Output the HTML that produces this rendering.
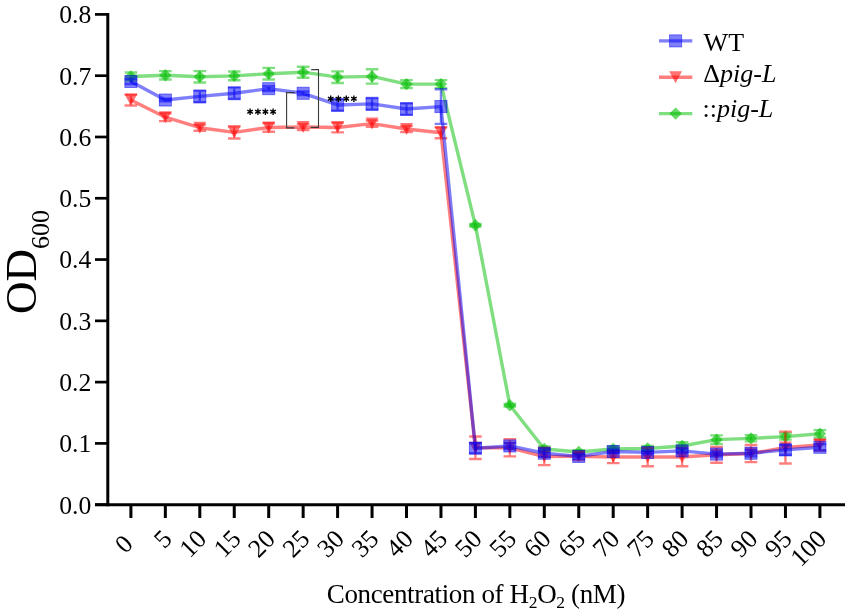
<!DOCTYPE html>
<html><head><meta charset="utf-8"><style>html,body{margin:0;padding:0;background:#fff}svg{display:block;will-change:transform}</style></head>
<body><svg width="851" height="615" viewBox="0 0 851 615">
<style>
.t{font-family:"Liberation Serif",serif;font-size:25.7px;fill:#000}
.lg{font-family:"Liberation Serif",serif;font-size:26px;fill:#000}
.ti{font-family:"Liberation Serif",serif;fill:#000}
</style>
<rect width="851" height="615" fill="#fff"/>
<g>
<polyline points="130.90,76.48 165.35,75.32 199.80,76.79 234.25,75.87 268.70,73.73 303.15,72.19 337.60,77.16 372.05,76.42 406.50,84.08 440.95,84.08 475.40,225.29 509.85,405.23 544.30,448.99 578.75,451.99 613.20,448.99 647.65,448.50 682.10,445.99 716.55,439.67 751.00,438.33 785.45,436.61 819.90,433.79" fill="none" stroke="rgba(0,190,0,0.5)" stroke-width="3.4" stroke-linejoin="round"/>
<path d="M130.90 72.50V80.47M124.60 72.50H137.20M124.60 80.47H137.20" stroke="rgba(0,190,0,0.5)" stroke-width="2.4" fill="none"/>
<path d="M165.35 71.09V79.55M159.05 71.09H171.65M159.05 79.55H171.65" stroke="rgba(0,190,0,0.5)" stroke-width="2.4" fill="none"/>
<path d="M199.80 71.15V82.43M193.50 71.15H206.10M193.50 82.43H206.10" stroke="rgba(0,190,0,0.5)" stroke-width="2.4" fill="none"/>
<path d="M234.25 71.46V80.28M227.95 71.46H240.55M227.95 80.28H240.55" stroke="rgba(0,190,0,0.5)" stroke-width="2.4" fill="none"/>
<path d="M268.70 67.90V79.55M262.40 67.90H275.00M262.40 79.55H275.00" stroke="rgba(0,190,0,0.5)" stroke-width="2.4" fill="none"/>
<path d="M303.15 66.68V77.71M296.85 66.68H309.45M296.85 77.71H309.45" stroke="rgba(0,190,0,0.5)" stroke-width="2.4" fill="none"/>
<path d="M337.60 71.34V82.98M331.30 71.34H343.90M331.30 82.98H343.90" stroke="rgba(0,190,0,0.5)" stroke-width="2.4" fill="none"/>
<path d="M372.05 69.25V83.59M365.75 69.25H378.35M365.75 83.59H378.35" stroke="rgba(0,190,0,0.5)" stroke-width="2.4" fill="none"/>
<path d="M406.50 80.10V88.07M400.20 80.10H412.80M400.20 88.07H412.80" stroke="rgba(0,190,0,0.5)" stroke-width="2.4" fill="none"/>
<path d="M440.95 80.10V88.07M434.65 80.10H447.25M434.65 88.07H447.25" stroke="rgba(0,190,0,0.5)" stroke-width="2.4" fill="none"/>
<path d="M475.40 224.06V226.52M469.10 224.06H481.70M469.10 226.52H481.70" stroke="rgba(0,190,0,0.5)" stroke-width="2.4" fill="none"/>
<path d="M509.85 404.00V406.46M503.55 404.00H516.15M503.55 406.46H516.15" stroke="rgba(0,190,0,0.5)" stroke-width="2.4" fill="none"/>
<path d="M544.30 446.54V451.44M538.00 446.54H550.60M538.00 451.44H550.60" stroke="rgba(0,190,0,0.5)" stroke-width="2.4" fill="none"/>
<path d="M578.75 450.15V453.83M572.45 450.15H585.05M572.45 453.83H585.05" stroke="rgba(0,190,0,0.5)" stroke-width="2.4" fill="none"/>
<path d="M613.20 446.54V451.44M606.90 446.54H619.50M606.90 451.44H619.50" stroke="rgba(0,190,0,0.5)" stroke-width="2.4" fill="none"/>
<path d="M647.65 446.05V450.95M641.35 446.05H653.95M641.35 450.95H653.95" stroke="rgba(0,190,0,0.5)" stroke-width="2.4" fill="none"/>
<path d="M682.10 442.31V449.66M675.80 442.31H688.40M675.80 449.66H688.40" stroke="rgba(0,190,0,0.5)" stroke-width="2.4" fill="none"/>
<path d="M716.55 435.38V443.96M710.25 435.38H722.85M710.25 443.96H722.85" stroke="rgba(0,190,0,0.5)" stroke-width="2.4" fill="none"/>
<path d="M751.00 435.26V441.39M744.70 435.26H757.30M744.70 441.39H757.30" stroke="rgba(0,190,0,0.5)" stroke-width="2.4" fill="none"/>
<path d="M785.45 433.55V439.67M779.15 433.55H791.75M779.15 439.67H791.75" stroke="rgba(0,190,0,0.5)" stroke-width="2.4" fill="none"/>
<path d="M819.90 430.11V437.47M813.60 430.11H826.20M813.60 437.47H826.20" stroke="rgba(0,190,0,0.5)" stroke-width="2.4" fill="none"/>
<path d="M130.90 70.28L137.10 76.48L130.90 82.68L124.70 76.48Z" fill="rgba(0,190,0,0.6)"/>
<path d="M165.35 69.12L171.55 75.32L165.35 81.52L159.15 75.32Z" fill="rgba(0,190,0,0.6)"/>
<path d="M199.80 70.59L206.00 76.79L199.80 82.99L193.60 76.79Z" fill="rgba(0,190,0,0.6)"/>
<path d="M234.25 69.67L240.45 75.87L234.25 82.07L228.05 75.87Z" fill="rgba(0,190,0,0.6)"/>
<path d="M268.70 67.53L274.90 73.73L268.70 79.93L262.50 73.73Z" fill="rgba(0,190,0,0.6)"/>
<path d="M303.15 65.99L309.35 72.19L303.15 78.39L296.95 72.19Z" fill="rgba(0,190,0,0.6)"/>
<path d="M337.60 70.96L343.80 77.16L337.60 83.36L331.40 77.16Z" fill="rgba(0,190,0,0.6)"/>
<path d="M372.05 70.22L378.25 76.42L372.05 82.62L365.85 76.42Z" fill="rgba(0,190,0,0.6)"/>
<path d="M406.50 77.88L412.70 84.08L406.50 90.28L400.30 84.08Z" fill="rgba(0,190,0,0.6)"/>
<path d="M440.95 77.88L447.15 84.08L440.95 90.28L434.75 84.08Z" fill="rgba(0,190,0,0.6)"/>
<path d="M475.40 219.09L481.60 225.29L475.40 231.49L469.20 225.29Z" fill="rgba(0,190,0,0.6)"/>
<path d="M509.85 399.03L516.05 405.23L509.85 411.43L503.65 405.23Z" fill="rgba(0,190,0,0.6)"/>
<path d="M544.30 442.79L550.50 448.99L544.30 455.19L538.10 448.99Z" fill="rgba(0,190,0,0.6)"/>
<path d="M578.75 445.79L584.95 451.99L578.75 458.19L572.55 451.99Z" fill="rgba(0,190,0,0.6)"/>
<path d="M613.20 442.79L619.40 448.99L613.20 455.19L607.00 448.99Z" fill="rgba(0,190,0,0.6)"/>
<path d="M647.65 442.30L653.85 448.50L647.65 454.70L641.45 448.50Z" fill="rgba(0,190,0,0.6)"/>
<path d="M682.10 439.79L688.30 445.99L682.10 452.19L675.90 445.99Z" fill="rgba(0,190,0,0.6)"/>
<path d="M716.55 433.47L722.75 439.67L716.55 445.87L710.35 439.67Z" fill="rgba(0,190,0,0.6)"/>
<path d="M751.00 432.13L757.20 438.33L751.00 444.53L744.80 438.33Z" fill="rgba(0,190,0,0.6)"/>
<path d="M785.45 430.41L791.65 436.61L785.45 442.81L779.25 436.61Z" fill="rgba(0,190,0,0.6)"/>
<path d="M819.90 427.59L826.10 433.79L819.90 439.99L813.70 433.79Z" fill="rgba(0,190,0,0.6)"/>
</g>
<g>
<polyline points="130.90,100.02 165.35,117.18 199.80,127.72 234.25,132.32 268.70,127.48 303.15,126.99 337.60,127.48 372.05,123.61 406.50,129.01 440.95,132.81 475.40,447.70 509.85,447.83 544.30,456.53 578.75,456.41 613.20,457.02 647.65,457.02 682.10,457.02 716.55,454.81 751.00,453.52 785.45,447.52 819.90,445.01" fill="none" stroke="rgba(255,0,0,0.5)" stroke-width="3.4" stroke-linejoin="round"/>
<path d="M130.90 94.50V105.53M124.60 94.50H137.20M124.60 105.53H137.20" stroke="rgba(255,0,0,0.5)" stroke-width="2.4" fill="none"/>
<path d="M165.35 113.20V121.16M159.05 113.20H171.65M159.05 121.16H171.65" stroke="rgba(255,0,0,0.5)" stroke-width="2.4" fill="none"/>
<path d="M199.80 124.66V130.78M193.50 124.66H206.10M193.50 130.78H206.10" stroke="rgba(255,0,0,0.5)" stroke-width="2.4" fill="none"/>
<path d="M234.25 126.19V138.45M227.95 126.19H240.55M227.95 138.45H240.55" stroke="rgba(255,0,0,0.5)" stroke-width="2.4" fill="none"/>
<path d="M268.70 123.19V131.77M262.40 123.19H275.00M262.40 131.77H275.00" stroke="rgba(255,0,0,0.5)" stroke-width="2.4" fill="none"/>
<path d="M303.15 123.92V130.05M296.85 123.92H309.45M296.85 130.05H309.45" stroke="rgba(255,0,0,0.5)" stroke-width="2.4" fill="none"/>
<path d="M337.60 122.57V132.38M331.30 122.57H343.90M331.30 132.38H343.90" stroke="rgba(255,0,0,0.5)" stroke-width="2.4" fill="none"/>
<path d="M372.05 120.55V126.68M365.75 120.55H378.35M365.75 126.68H378.35" stroke="rgba(255,0,0,0.5)" stroke-width="2.4" fill="none"/>
<path d="M406.50 125.94V132.07M400.20 125.94H412.80M400.20 132.07H412.80" stroke="rgba(255,0,0,0.5)" stroke-width="2.4" fill="none"/>
<path d="M440.95 127.29V138.32M434.65 127.29H447.25M434.65 138.32H447.25" stroke="rgba(255,0,0,0.5)" stroke-width="2.4" fill="none"/>
<path d="M475.40 436.43V458.98M469.10 436.43H481.70M469.10 458.98H481.70" stroke="rgba(255,0,0,0.5)" stroke-width="2.4" fill="none"/>
<path d="M509.85 439.24V456.41M503.55 439.24H516.15M503.55 456.41H516.15" stroke="rgba(255,0,0,0.5)" stroke-width="2.4" fill="none"/>
<path d="M544.30 447.95V465.11M538.00 447.95H550.60M538.00 465.11H550.60" stroke="rgba(255,0,0,0.5)" stroke-width="2.4" fill="none"/>
<path d="M578.75 452.73V460.08M572.45 452.73H585.05M572.45 460.08H585.05" stroke="rgba(255,0,0,0.5)" stroke-width="2.4" fill="none"/>
<path d="M613.20 450.89V463.15M606.90 450.89H619.50M606.90 463.15H619.50" stroke="rgba(255,0,0,0.5)" stroke-width="2.4" fill="none"/>
<path d="M647.65 447.83V466.21M641.35 447.83H653.95M641.35 466.21H653.95" stroke="rgba(255,0,0,0.5)" stroke-width="2.4" fill="none"/>
<path d="M682.10 447.83V466.21M675.80 447.83H688.40M675.80 466.21H688.40" stroke="rgba(255,0,0,0.5)" stroke-width="2.4" fill="none"/>
<path d="M716.55 446.84V462.78M710.25 446.84H722.85M710.25 462.78H722.85" stroke="rgba(255,0,0,0.5)" stroke-width="2.4" fill="none"/>
<path d="M751.00 444.94V462.11M744.70 444.94H757.30M744.70 462.11H757.30" stroke="rgba(255,0,0,0.5)" stroke-width="2.4" fill="none"/>
<path d="M785.45 431.58V463.45M779.15 431.58H791.75M779.15 463.45H791.75" stroke="rgba(255,0,0,0.5)" stroke-width="2.4" fill="none"/>
<path d="M819.90 439.49V450.52M813.60 439.49H826.20M813.60 450.52H826.20" stroke="rgba(255,0,0,0.5)" stroke-width="2.4" fill="none"/>
<path d="M124.50 94.02H137.30L130.90 106.02Z" fill="rgba(255,0,0,0.55)"/>
<path d="M158.95 111.18H171.75L165.35 123.18Z" fill="rgba(255,0,0,0.55)"/>
<path d="M193.40 121.72H206.20L199.80 133.72Z" fill="rgba(255,0,0,0.55)"/>
<path d="M227.85 126.32H240.65L234.25 138.32Z" fill="rgba(255,0,0,0.55)"/>
<path d="M262.30 121.48H275.10L268.70 133.48Z" fill="rgba(255,0,0,0.55)"/>
<path d="M296.75 120.99H309.55L303.15 132.99Z" fill="rgba(255,0,0,0.55)"/>
<path d="M331.20 121.48H344.00L337.60 133.48Z" fill="rgba(255,0,0,0.55)"/>
<path d="M365.65 117.61H378.45L372.05 129.61Z" fill="rgba(255,0,0,0.55)"/>
<path d="M400.10 123.01H412.90L406.50 135.01Z" fill="rgba(255,0,0,0.55)"/>
<path d="M434.55 126.81H447.35L440.95 138.81Z" fill="rgba(255,0,0,0.55)"/>
<path d="M469.00 441.70H481.80L475.40 453.70Z" fill="rgba(255,0,0,0.55)"/>
<path d="M503.45 441.83H516.25L509.85 453.83Z" fill="rgba(255,0,0,0.55)"/>
<path d="M537.90 450.53H550.70L544.30 462.53Z" fill="rgba(255,0,0,0.55)"/>
<path d="M572.35 450.41H585.15L578.75 462.41Z" fill="rgba(255,0,0,0.55)"/>
<path d="M606.80 451.02H619.60L613.20 463.02Z" fill="rgba(255,0,0,0.55)"/>
<path d="M641.25 451.02H654.05L647.65 463.02Z" fill="rgba(255,0,0,0.55)"/>
<path d="M675.70 451.02H688.50L682.10 463.02Z" fill="rgba(255,0,0,0.55)"/>
<path d="M710.15 448.81H722.95L716.55 460.81Z" fill="rgba(255,0,0,0.55)"/>
<path d="M744.60 447.52H757.40L751.00 459.52Z" fill="rgba(255,0,0,0.55)"/>
<path d="M779.05 441.52H791.85L785.45 453.52Z" fill="rgba(255,0,0,0.55)"/>
<path d="M813.50 439.01H826.30L819.90 451.01Z" fill="rgba(255,0,0,0.55)"/>
</g>
<g>
<polyline points="130.90,81.51 165.35,100.02 199.80,96.40 234.25,93.22 268.70,88.68 303.15,93.28 337.60,104.98 372.05,103.88 406.50,109.03 440.95,106.58 475.40,448.19 509.85,445.93 544.30,453.22 578.75,456.41 613.20,451.50 647.65,452.42 682.10,450.89 716.55,454.08 751.00,453.22 785.45,449.91 819.90,447.27" fill="none" stroke="rgba(0,0,245,0.5)" stroke-width="3.4" stroke-linejoin="round"/>
<path d="M130.90 79.06V83.96M124.60 79.06H137.20M124.60 83.96H137.20" stroke="rgba(0,0,245,0.5)" stroke-width="2.4" fill="none"/>
<path d="M165.35 98.79V101.24M159.05 98.79H171.65M159.05 101.24H171.65" stroke="rgba(0,0,245,0.5)" stroke-width="2.4" fill="none"/>
<path d="M199.80 90.58V102.22M193.50 90.58H206.10M193.50 102.22H206.10" stroke="rgba(0,0,245,0.5)" stroke-width="2.4" fill="none"/>
<path d="M234.25 87.39V99.04M227.95 87.39H240.55M227.95 99.04H240.55" stroke="rgba(0,0,245,0.5)" stroke-width="2.4" fill="none"/>
<path d="M268.70 86.23V91.13M262.40 86.23H275.00M262.40 91.13H275.00" stroke="rgba(0,0,245,0.5)" stroke-width="2.4" fill="none"/>
<path d="M303.15 91.44V95.12M296.85 91.44H309.45M296.85 95.12H309.45" stroke="rgba(0,0,245,0.5)" stroke-width="2.4" fill="none"/>
<path d="M337.60 99.16V110.81M331.30 99.16H343.90M331.30 110.81H343.90" stroke="rgba(0,0,245,0.5)" stroke-width="2.4" fill="none"/>
<path d="M372.05 98.06V109.70M365.75 98.06H378.35M365.75 109.70H378.35" stroke="rgba(0,0,245,0.5)" stroke-width="2.4" fill="none"/>
<path d="M406.50 103.21V114.85M400.20 103.21H412.80M400.20 114.85H412.80" stroke="rgba(0,0,245,0.5)" stroke-width="2.4" fill="none"/>
<path d="M440.95 89.29V123.86M434.65 89.29H447.25M434.65 123.86H447.25" stroke="rgba(0,0,245,0.5)" stroke-width="2.4" fill="none"/>
<path d="M475.40 443.29V453.10M469.10 443.29H481.70M469.10 453.10H481.70" stroke="rgba(0,0,245,0.5)" stroke-width="2.4" fill="none"/>
<path d="M509.85 442.86V448.99M503.55 442.86H516.15M503.55 448.99H516.15" stroke="rgba(0,0,245,0.5)" stroke-width="2.4" fill="none"/>
<path d="M544.30 449.54V456.90M538.00 449.54H550.60M538.00 456.90H550.60" stroke="rgba(0,0,245,0.5)" stroke-width="2.4" fill="none"/>
<path d="M578.75 453.95V458.86M572.45 453.95H585.05M572.45 458.86H585.05" stroke="rgba(0,0,245,0.5)" stroke-width="2.4" fill="none"/>
<path d="M613.20 449.66V453.34M606.90 449.66H619.50M606.90 453.34H619.50" stroke="rgba(0,0,245,0.5)" stroke-width="2.4" fill="none"/>
<path d="M647.65 450.58V454.26M641.35 450.58H653.95M641.35 454.26H653.95" stroke="rgba(0,0,245,0.5)" stroke-width="2.4" fill="none"/>
<path d="M682.10 448.44V453.34M675.80 448.44H688.40M675.80 453.34H688.40" stroke="rgba(0,0,245,0.5)" stroke-width="2.4" fill="none"/>
<path d="M716.55 451.63V456.53M710.25 451.63H722.85M710.25 456.53H722.85" stroke="rgba(0,0,245,0.5)" stroke-width="2.4" fill="none"/>
<path d="M751.00 450.15V456.28M744.70 450.15H757.30M744.70 456.28H757.30" stroke="rgba(0,0,245,0.5)" stroke-width="2.4" fill="none"/>
<path d="M785.45 445.01V454.81M779.15 445.01H791.75M779.15 454.81H791.75" stroke="rgba(0,0,245,0.5)" stroke-width="2.4" fill="none"/>
<path d="M819.90 444.21V450.34M813.60 444.21H826.20M813.60 450.34H826.20" stroke="rgba(0,0,245,0.5)" stroke-width="2.4" fill="none"/>
<rect x="124.85" y="75.46" width="12.1" height="12.1" fill="rgba(0,0,245,0.5)" stroke="rgba(0,0,245,0.5)" stroke-width="0.9"/>
<rect x="159.30" y="93.97" width="12.1" height="12.1" fill="rgba(0,0,245,0.5)" stroke="rgba(0,0,245,0.5)" stroke-width="0.9"/>
<rect x="193.75" y="90.35" width="12.1" height="12.1" fill="rgba(0,0,245,0.5)" stroke="rgba(0,0,245,0.5)" stroke-width="0.9"/>
<rect x="228.20" y="87.17" width="12.1" height="12.1" fill="rgba(0,0,245,0.5)" stroke="rgba(0,0,245,0.5)" stroke-width="0.9"/>
<rect x="262.65" y="82.63" width="12.1" height="12.1" fill="rgba(0,0,245,0.5)" stroke="rgba(0,0,245,0.5)" stroke-width="0.9"/>
<rect x="297.10" y="87.23" width="12.1" height="12.1" fill="rgba(0,0,245,0.5)" stroke="rgba(0,0,245,0.5)" stroke-width="0.9"/>
<rect x="331.55" y="98.93" width="12.1" height="12.1" fill="rgba(0,0,245,0.5)" stroke="rgba(0,0,245,0.5)" stroke-width="0.9"/>
<rect x="366.00" y="97.83" width="12.1" height="12.1" fill="rgba(0,0,245,0.5)" stroke="rgba(0,0,245,0.5)" stroke-width="0.9"/>
<rect x="400.45" y="102.98" width="12.1" height="12.1" fill="rgba(0,0,245,0.5)" stroke="rgba(0,0,245,0.5)" stroke-width="0.9"/>
<rect x="434.90" y="100.53" width="12.1" height="12.1" fill="rgba(0,0,245,0.5)" stroke="rgba(0,0,245,0.5)" stroke-width="0.9"/>
<rect x="469.35" y="442.14" width="12.1" height="12.1" fill="rgba(0,0,245,0.5)" stroke="rgba(0,0,245,0.5)" stroke-width="0.9"/>
<rect x="503.80" y="439.88" width="12.1" height="12.1" fill="rgba(0,0,245,0.5)" stroke="rgba(0,0,245,0.5)" stroke-width="0.9"/>
<rect x="538.25" y="447.17" width="12.1" height="12.1" fill="rgba(0,0,245,0.5)" stroke="rgba(0,0,245,0.5)" stroke-width="0.9"/>
<rect x="572.70" y="450.36" width="12.1" height="12.1" fill="rgba(0,0,245,0.5)" stroke="rgba(0,0,245,0.5)" stroke-width="0.9"/>
<rect x="607.15" y="445.45" width="12.1" height="12.1" fill="rgba(0,0,245,0.5)" stroke="rgba(0,0,245,0.5)" stroke-width="0.9"/>
<rect x="641.60" y="446.37" width="12.1" height="12.1" fill="rgba(0,0,245,0.5)" stroke="rgba(0,0,245,0.5)" stroke-width="0.9"/>
<rect x="676.05" y="444.84" width="12.1" height="12.1" fill="rgba(0,0,245,0.5)" stroke="rgba(0,0,245,0.5)" stroke-width="0.9"/>
<rect x="710.50" y="448.03" width="12.1" height="12.1" fill="rgba(0,0,245,0.5)" stroke="rgba(0,0,245,0.5)" stroke-width="0.9"/>
<rect x="744.95" y="447.17" width="12.1" height="12.1" fill="rgba(0,0,245,0.5)" stroke="rgba(0,0,245,0.5)" stroke-width="0.9"/>
<rect x="779.40" y="443.86" width="12.1" height="12.1" fill="rgba(0,0,245,0.5)" stroke="rgba(0,0,245,0.5)" stroke-width="0.9"/>
<rect x="813.85" y="441.22" width="12.1" height="12.1" fill="rgba(0,0,245,0.5)" stroke="rgba(0,0,245,0.5)" stroke-width="0.9"/>
</g>
<line x1="107.8" y1="13" x2="107.8" y2="506.2" stroke="#000" stroke-width="3"/>
<line x1="95" y1="504.7" x2="845" y2="504.7" stroke="#000" stroke-width="3"/>
<line x1="95" y1="504.70" x2="107.8" y2="504.70" stroke="#000" stroke-width="2.7"/>
<text x="91.3" y="513.60" text-anchor="end" class="t">0.0</text>
<line x1="95" y1="443.41" x2="107.8" y2="443.41" stroke="#000" stroke-width="2.7"/>
<text x="91.3" y="452.31" text-anchor="end" class="t">0.1</text>
<line x1="95" y1="382.12" x2="107.8" y2="382.12" stroke="#000" stroke-width="2.7"/>
<text x="91.3" y="391.02" text-anchor="end" class="t">0.2</text>
<line x1="95" y1="320.84" x2="107.8" y2="320.84" stroke="#000" stroke-width="2.7"/>
<text x="91.3" y="329.74" text-anchor="end" class="t">0.3</text>
<line x1="95" y1="259.55" x2="107.8" y2="259.55" stroke="#000" stroke-width="2.7"/>
<text x="91.3" y="268.45" text-anchor="end" class="t">0.4</text>
<line x1="95" y1="198.26" x2="107.8" y2="198.26" stroke="#000" stroke-width="2.7"/>
<text x="91.3" y="207.16" text-anchor="end" class="t">0.5</text>
<line x1="95" y1="136.98" x2="107.8" y2="136.98" stroke="#000" stroke-width="2.7"/>
<text x="91.3" y="145.88" text-anchor="end" class="t">0.6</text>
<line x1="95" y1="75.69" x2="107.8" y2="75.69" stroke="#000" stroke-width="2.7"/>
<text x="91.3" y="84.59" text-anchor="end" class="t">0.7</text>
<line x1="95" y1="14.40" x2="107.8" y2="14.40" stroke="#000" stroke-width="2.7"/>
<text x="91.3" y="23.30" text-anchor="end" class="t">0.8</text>
<line x1="130.90" y1="504.7" x2="130.90" y2="518" stroke="#000" stroke-width="3"/>
<text transform="translate(134.40,545.3) rotate(-45)" text-anchor="end" class="t">0</text>
<line x1="165.35" y1="504.7" x2="165.35" y2="518" stroke="#000" stroke-width="3"/>
<text transform="translate(173.35,540.5) rotate(-45)" text-anchor="end" class="t">5</text>
<line x1="199.80" y1="504.7" x2="199.80" y2="518" stroke="#000" stroke-width="3"/>
<text transform="translate(207.80,540.5) rotate(-45)" text-anchor="end" class="t">10</text>
<line x1="234.25" y1="504.7" x2="234.25" y2="518" stroke="#000" stroke-width="3"/>
<text transform="translate(242.25,540.5) rotate(-45)" text-anchor="end" class="t">15</text>
<line x1="268.70" y1="504.7" x2="268.70" y2="518" stroke="#000" stroke-width="3"/>
<text transform="translate(276.70,540.5) rotate(-45)" text-anchor="end" class="t">20</text>
<line x1="303.15" y1="504.7" x2="303.15" y2="518" stroke="#000" stroke-width="3"/>
<text transform="translate(311.15,540.5) rotate(-45)" text-anchor="end" class="t">25</text>
<line x1="337.60" y1="504.7" x2="337.60" y2="518" stroke="#000" stroke-width="3"/>
<text transform="translate(345.60,540.5) rotate(-45)" text-anchor="end" class="t">30</text>
<line x1="372.05" y1="504.7" x2="372.05" y2="518" stroke="#000" stroke-width="3"/>
<text transform="translate(380.05,540.5) rotate(-45)" text-anchor="end" class="t">35</text>
<line x1="406.50" y1="504.7" x2="406.50" y2="518" stroke="#000" stroke-width="3"/>
<text transform="translate(414.50,540.5) rotate(-45)" text-anchor="end" class="t">40</text>
<line x1="440.95" y1="504.7" x2="440.95" y2="518" stroke="#000" stroke-width="3"/>
<text transform="translate(448.95,540.5) rotate(-45)" text-anchor="end" class="t">45</text>
<line x1="475.40" y1="504.7" x2="475.40" y2="518" stroke="#000" stroke-width="3"/>
<text transform="translate(483.40,540.5) rotate(-45)" text-anchor="end" class="t">50</text>
<line x1="509.85" y1="504.7" x2="509.85" y2="518" stroke="#000" stroke-width="3"/>
<text transform="translate(517.85,540.5) rotate(-45)" text-anchor="end" class="t">55</text>
<line x1="544.30" y1="504.7" x2="544.30" y2="518" stroke="#000" stroke-width="3"/>
<text transform="translate(552.30,540.5) rotate(-45)" text-anchor="end" class="t">60</text>
<line x1="578.75" y1="504.7" x2="578.75" y2="518" stroke="#000" stroke-width="3"/>
<text transform="translate(586.75,540.5) rotate(-45)" text-anchor="end" class="t">65</text>
<line x1="613.20" y1="504.7" x2="613.20" y2="518" stroke="#000" stroke-width="3"/>
<text transform="translate(621.20,540.5) rotate(-45)" text-anchor="end" class="t">70</text>
<line x1="647.65" y1="504.7" x2="647.65" y2="518" stroke="#000" stroke-width="3"/>
<text transform="translate(655.65,540.5) rotate(-45)" text-anchor="end" class="t">75</text>
<line x1="682.10" y1="504.7" x2="682.10" y2="518" stroke="#000" stroke-width="3"/>
<text transform="translate(690.10,540.5) rotate(-45)" text-anchor="end" class="t">80</text>
<line x1="716.55" y1="504.7" x2="716.55" y2="518" stroke="#000" stroke-width="3"/>
<text transform="translate(724.55,540.5) rotate(-45)" text-anchor="end" class="t">85</text>
<line x1="751.00" y1="504.7" x2="751.00" y2="518" stroke="#000" stroke-width="3"/>
<text transform="translate(759.00,540.5) rotate(-45)" text-anchor="end" class="t">90</text>
<line x1="785.45" y1="504.7" x2="785.45" y2="518" stroke="#000" stroke-width="3"/>
<text transform="translate(793.45,540.5) rotate(-45)" text-anchor="end" class="t">95</text>
<line x1="819.90" y1="504.7" x2="819.90" y2="518" stroke="#000" stroke-width="3"/>
<text transform="translate(827.90,540.5) rotate(-45)" text-anchor="end" class="t">100</text>
<path d="M294.8 92.6H286.6V127.9H294.4" fill="none" stroke="#3a3a3a" stroke-width="1.1"/>
<path d="M311.2 69.6H318.5V127.4H310.8" fill="none" stroke="#3a3a3a" stroke-width="1.1"/>
<path d="M250.10 115.00L250.10 108.60M247.33 113.40L252.87 110.20M247.33 110.20L252.87 113.40" stroke="#000" stroke-width="1.35" fill="none"/>
<path d="M257.90 115.00L257.90 108.60M255.13 113.40L260.67 110.20M255.13 110.20L260.67 113.40" stroke="#000" stroke-width="1.35" fill="none"/>
<path d="M265.40 115.00L265.40 108.60M262.63 113.40L268.17 110.20M262.63 110.20L268.17 113.40" stroke="#000" stroke-width="1.35" fill="none"/>
<path d="M273.10 115.00L273.10 108.60M270.33 113.40L275.87 110.20M270.33 110.20L275.87 113.40" stroke="#000" stroke-width="1.35" fill="none"/>
<path d="M330.70 102.00L330.70 95.60M327.93 100.40L333.47 97.20M327.93 97.20L333.47 100.40" stroke="#000" stroke-width="1.35" fill="none"/>
<path d="M338.40 102.00L338.40 95.60M335.63 100.40L341.17 97.20M335.63 97.20L341.17 100.40" stroke="#000" stroke-width="1.35" fill="none"/>
<path d="M346.30 102.00L346.30 95.60M343.53 100.40L349.07 97.20M343.53 97.20L349.07 100.40" stroke="#000" stroke-width="1.35" fill="none"/>
<path d="M353.90 102.00L353.90 95.60M351.13 100.40L356.67 97.20M351.13 97.20L356.67 100.40" stroke="#000" stroke-width="1.35" fill="none"/>
<line x1="659" y1="40.9" x2="692.3" y2="40.9" stroke="rgba(0,0,245,0.5)" stroke-width="3.4"/>
<rect x="669.55" y="34.85" width="12.1" height="12.1" fill="rgba(0,0,245,0.5)" stroke="rgba(0,0,245,0.5)" stroke-width="0.9"/>
<text x="703.6" y="50.8" class="lg">WT</text>
<line x1="659" y1="77.2" x2="692.3" y2="77.2" stroke="rgba(255,0,0,0.5)" stroke-width="3.4"/>
<path d="M669.20 71.25H682.00L675.60 83.25Z" fill="rgba(255,0,0,0.55)"/>
<text x="703.3" y="81.6" class="lg">&#916;<tspan font-style="italic">pig-L</tspan></text>
<line x1="659" y1="113.6" x2="692.3" y2="113.6" stroke="rgba(0,190,0,0.5)" stroke-width="3.4"/>
<path d="M675.60 107.40L681.80 113.60L675.60 119.80L669.40 113.60Z" fill="rgba(0,190,0,0.6)"/>
<text x="702.5" y="117.2" class="lg">::<tspan font-style="italic">pig-L</tspan></text>
<text x="326.8" y="602.6" class="ti" font-size="27" letter-spacing="-0.36">Concentration of H<tspan font-size="17.5" dy="5">2</tspan><tspan dy="-5">O</tspan><tspan font-size="17.5" dy="5">2</tspan><tspan dy="-5"> (nM)</tspan></text>
<text transform="translate(36.4,314) rotate(-90)" class="ti" font-size="45">OD<tspan font-size="26" dy="12.3">600</tspan></text>
</svg></body></html>
